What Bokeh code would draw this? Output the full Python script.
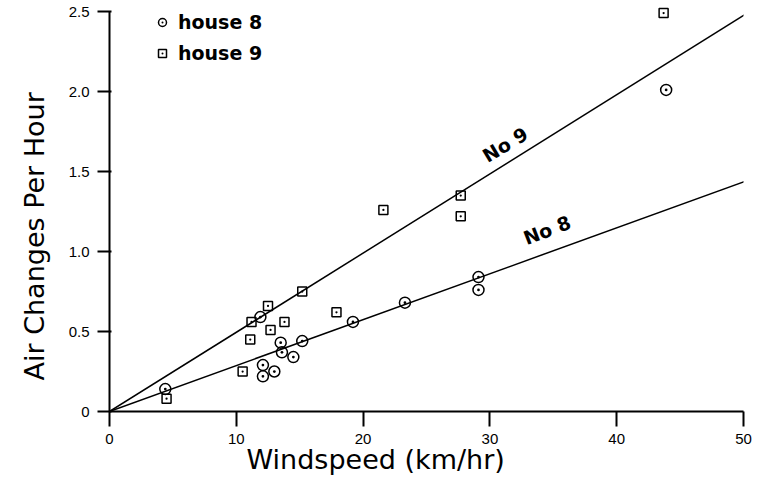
from bokeh.plotting import figure
from bokeh.models import (Slope, Label, Legend, LegendItem, FixedTicker, Range1d, Title)
from bokeh.embed import file_html
from bokeh.resources import INLINE

# ---- data ----
house8_x = [4.4, 11.9, 12.1, 12.1, 13.0, 13.5, 13.6, 14.5, 15.2, 19.2, 23.3, 29.1, 29.1, 43.9]
house8_y = [0.14, 0.59, 0.29, 0.22, 0.25, 0.43, 0.37, 0.34, 0.44, 0.56, 0.68, 0.84, 0.76, 2.01]

house9_x = [4.5, 10.5, 11.1, 11.2, 12.5, 12.7, 13.8, 15.2, 17.9, 21.6, 27.7, 27.7, 43.7]
house9_y = [0.08, 0.25, 0.45, 0.56, 0.66, 0.51, 0.56, 0.75, 0.62, 1.26, 1.35, 1.22, 2.49]

fit_slope_8 = 0.0287   # air changes per hour per km/hr
fit_slope_9 = 0.0495

x_ticks = [0, 10, 20, 30, 40, 50]
y_ticks = [0, 0.5, 1.0, 1.5, 2.0, 2.5]
y_tick_labels = ["0", "0.5", "1.0", "1.5", "2.0", "2.5"]

p = figure(width=752, height=481, output_backend="svg", toolbar_location=None,
           x_range=Range1d(0, 50), y_range=Range1d(0, 2.55),
           min_border_left=106, min_border_right=9, min_border_top=3, min_border_bottom=70)
p.background_fill_color = "white"
p.border_fill_color = "white"
p.outline_line_color = None
p.xgrid.grid_line_color = None
p.ygrid.grid_line_color = None

for ax in (p.xaxis[0], p.yaxis[0]):
    ax.axis_line_width = 2
    ax.axis_line_color = "black"
    ax.major_tick_line_width = 2
    ax.major_tick_line_color = "black"
    ax.minor_tick_line_color = None
    ax.major_label_text_font = "Liberation Sans"
    ax.major_label_text_font_size = "15px"
    ax.major_label_text_color = "black"

p.xaxis.ticker = FixedTicker(ticks=x_ticks)
p.xaxis.bounds = (0, 50)
p.xaxis.major_tick_out = 15
p.xaxis.major_tick_in = 0
p.xaxis.major_label_standoff = 7

p.yaxis.ticker = FixedTicker(ticks=y_ticks)
p.yaxis.major_label_overrides = {t: l for t, l in zip(y_ticks, y_tick_labels)}
p.yaxis.bounds = (0, 2.5)
p.yaxis.major_tick_out = 12
p.yaxis.major_tick_in = 2
p.yaxis.major_label_standoff = 8

# regression lines
p.add_layout(Slope(gradient=fit_slope_9, y_intercept=0, line_color="black", line_width=1.5))
p.add_layout(Slope(gradient=fit_slope_8, y_intercept=0, line_color="black", line_width=1.5))

r9 = p.scatter(house9_x, house9_y, marker="square_dot", size=9, line_color="black",
               line_width=1.5, fill_color=None)
r8 = p.scatter(house8_x, house8_y, marker="circle_dot", size=11, line_color="black",
               line_width=1.5, fill_color=None)

# line labels
p.add_layout(Label(x=31.2, y=1.668, text="No 9", angle=31, angle_units="deg",
                   text_align="center", text_baseline="middle", text_font="DejaVu Sans",
                   text_font_style="bold", text_font_size="19px", text_color="black"))
p.add_layout(Label(x=34.5, y=1.134, text="No 8", angle=21, angle_units="deg",
                   text_align="center", text_baseline="middle", text_font="DejaVu Sans",
                   text_font_style="bold", text_font_size="19px", text_color="black"))

# axis titles
p.add_layout(Title(text="Windspeed (km/hr)", align="left", offset=137, standoff=-10,
                   text_font="DejaVu Sans", text_font_size="27px", text_font_style="normal",
                   text_color="black"), "below")
p.add_layout(Title(text="Air Changes Per Hour", align="left", offset=31, standoff=32,
                   text_font="DejaVu Sans", text_font_size="27px", text_font_style="normal",
                   text_color="black"), "left")

legend = Legend(items=[LegendItem(label="house 8", renderers=[r8]),
                       LegendItem(label="house 9", renderers=[r9])],
                location=(43, 347), border_line_color=None, background_fill_alpha=0,
                padding=0, margin=0, spacing=9, glyph_width=20, glyph_height=20,
                label_standoff=6, label_text_font="DejaVu Sans", label_text_font_style="bold",
                label_text_font_size="19px", label_text_color="black", label_height=22)
p.add_layout(legend)

open("out.html", "w").write(file_html(p, INLINE))
